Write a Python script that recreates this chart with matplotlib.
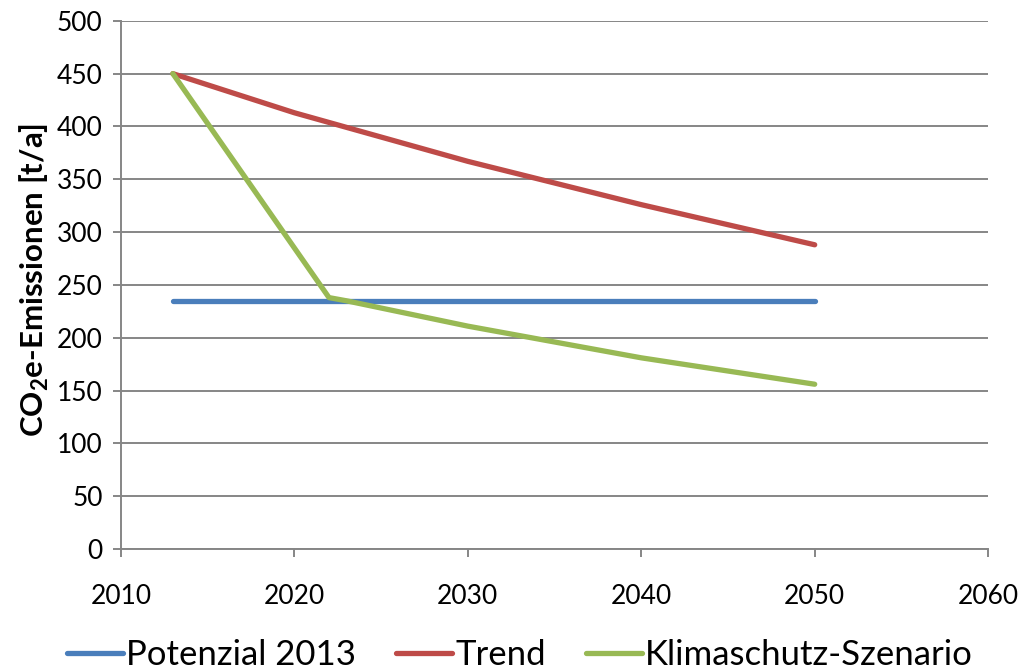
import numpy as np
import matplotlib.pyplot as plt

# Data
pot_years = [2013, 2050]
pot_values = [235, 235]

trend_years = [2013, 2020, 2030, 2040, 2050]
trend_values = [450, 413, 367, 326, 288]

klima_years = [2013, 2022, 2023, 2030, 2040, 2050]
klima_values = [450, 238, 235, 211, 181, 156]

y_ticks = list(range(0, 501, 50))
x_ticks = list(range(2010, 2061, 10))

plt.rcParams['font.family'] = ['Lato', 'DejaVu Sans']
plt.rcParams['mathtext.fontset'] = 'custom'
plt.rcParams['mathtext.rm'] = 'Lato'
plt.rcParams['mathtext.bf'] = 'Lato:bold'

grey = '#868686'

fig = plt.figure(figsize=(10.24, 6.72), dpi=100)
ax = fig.add_axes([0.118, 0.183, 0.847, 0.786])

lw = 3.8
ax.plot(pot_years, pot_values, color='#4A7EBB', lw=lw, solid_capstyle='round',
        label='Potenzial 2013', zorder=3)
ax.plot(trend_years, trend_values, color='#BE4B48', lw=lw, solid_capstyle='round',
        solid_joinstyle='round', label='Trend', zorder=3)
ax.plot(klima_years, klima_values, color='#98B954', lw=lw, solid_capstyle='round',
        solid_joinstyle='round', label='Klimaschutz-Szenario', zorder=4)

ax.set_xlim(2010, 2060)
ax.set_ylim(0, 500)
ax.set_xticks(x_ticks)
ax.set_yticks(y_ticks)
ax.grid(axis='y', color=grey, lw=1.4)
ax.set_axisbelow(True)

for s in ['top', 'right']:
    ax.spines[s].set_visible(False)
for s in ['left', 'bottom']:
    ax.spines[s].set_color(grey)
    ax.spines[s].set_linewidth(1.4)

ax.tick_params(axis='both', colors=grey, length=6, width=1.4, labelcolor='black',
               labelsize=19)
ax.tick_params(axis='y', pad=7)
ax.tick_params(axis='x', pad=19)

ax.set_ylabel(r'CO$_\mathbf{2}$e-Emissionen [t/a]', fontsize=22.5, fontweight='bold')
ax.yaxis.set_label_coords(-0.08, 0.51)

fig.legend(loc='center', bbox_to_anchor=(0.508, 0.025), ncol=3, frameon=False,
           fontsize=25, handlelength=1.6, handletextpad=0.1, columnspacing=1.15)

fig.savefig('out.png', dpi=100)
